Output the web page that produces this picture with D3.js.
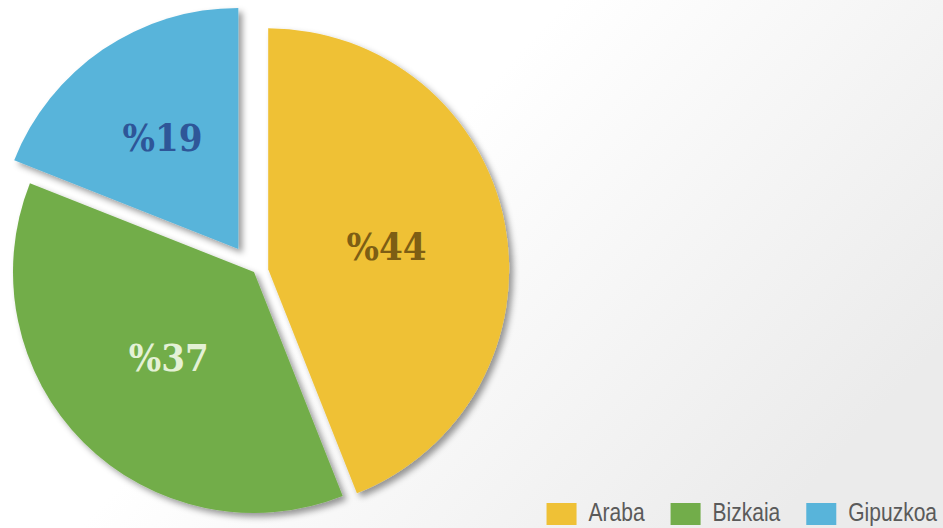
<!DOCTYPE html>
<html>
<head>
<meta charset="utf-8">
<script src="https://cdn.jsdelivr.net/npm/d3@7/dist/d3.min.js"></script>
<style>
  html, body { margin: 0; padding: 0; background: #fff; }
  svg { display: block; }
</style>
</head>
<body>
<div id="chart"></div>
<script>
  // data
  var provinces = ["Araba", "Bizkaia", "Gipuzkoa"];
  var shares = [44, 37, 19];

  // look of each slice (colour, label colour, how far it is pulled out, where the label sits)
  var sliceColor = { Araba: "#efc136", Bizkaia: "#72ad4a", Gipuzkoa: "#58b4da" };
  var labelColor = { Araba: "#7d5e14", Bizkaia: "#e4f1d6", Gipuzkoa: "#2e5698" };
  var explode = { Araba: 0.06, Bizkaia: 0, Gipuzkoa: 0.116 };
  var labelAt = { Araba: 0.5, Bizkaia: 0.5, Gipuzkoa: 0.56 };

  var width = 943;
  var height = 528;
  var radius = 241;
  var cx = 254, cy = 272;

  var svg = d3.select("#chart").append("svg")
    .attr("width", width)
    .attr("height", height);

  var defs = svg.append("defs");

  var bg = defs.append("linearGradient")
    .attr("id", "bg")
    .attr("x1", "0.42").attr("y1", "0.35")
    .attr("x2", "1").attr("y2", "0.65");
  bg.append("stop").attr("offset", "0").attr("stop-color", "#ffffff");
  bg.append("stop").attr("offset", "1").attr("stop-color", "#ebebeb");

  var shadow = defs.append("filter")
    .attr("id", "shadow")
    .attr("x", "-20%").attr("y", "-20%")
    .attr("width", "140%").attr("height", "140%");
  shadow.append("feDropShadow")
    .attr("dx", 4).attr("dy", 4)
    .attr("stdDeviation", 3)
    .attr("flood-color", "#000")
    .attr("flood-opacity", 0.4);

  svg.append("rect")
    .attr("width", width)
    .attr("height", height)
    .attr("fill", "url(#bg)");

  var table = provinces.map(function (p, i) { return { name: p, value: shares[i] }; });

  var pie = d3.pie()
    .sort(null)
    .value(function (d) { return d.value; });

  var arc = d3.arc()
    .innerRadius(0)
    .outerRadius(radius);

  var g = svg.append("g")
    .attr("transform", "translate(" + cx + "," + cy + ")");

  // offset of a slice along its middle angle
  function pull(d, k) {
    var a = (d.startAngle + d.endAngle) / 2;
    return [Math.sin(a) * k, -Math.cos(a) * k];
  }

  var slices = g.selectAll("g.slice")
    .data(pie(table))
    .enter().append("g")
    .attr("class", "slice")
    .attr("transform", function (d) {
      var o = pull(d, explode[d.data.name] * radius);
      return "translate(" + o[0] + "," + o[1] + ")";
    });

  slices.append("path")
    .attr("d", arc)
    .attr("fill", function (d) { return sliceColor[d.data.name]; })
    .attr("filter", "url(#shadow)");

  slices.append("text")
    .attr("x", function (d) { return pull(d, radius * labelAt[d.data.name])[0]; })
    .attr("y", function (d) { return pull(d, radius * labelAt[d.data.name])[1]; })
    .attr("dy", "0.35em")
    .attr("text-anchor", "middle")
    .style("font-family", "'DejaVu Serif Condensed', 'DejaVu Serif', serif")
    .style("font-weight", "bold")
    .style("font-size", "38px")
    .attr("fill", function (d) { return labelColor[d.data.name]; })
    .text(function (d) { return "%" + d.data.value; });

  // legend, laid out from the right edge
  var legend = svg.append("g").attr("class", "legend");
  var items = legend.selectAll("g")
    .data(provinces)
    .enter().append("g");

  items.append("rect")
    .attr("width", 30)
    .attr("height", 22)
    .attr("y", 503)
    .attr("fill", function (d) { return sliceColor[d]; });

  items.append("text")
    .attr("y", 521)
    .style("font-family", "'Liberation Sans', sans-serif")
    .style("font-size", "25px")
    .attr("fill", "#5a5a5a")
    .text(function (d) { return d; });

  var x = 937;
  var nodes = items.nodes().reverse();
  nodes.forEach(function (node) {
    var item = d3.select(node);
    var t = item.select("text");
    // the legend face is a narrow one: squeeze the text
    var w = t.node().getComputedTextLength() * 0.84;
    t.attr("textLength", w).attr("lengthAdjust", "spacingAndGlyphs");
    var textX = x - w;
    t.attr("x", textX);
    item.select("rect").attr("x", textX - 42);
    x = textX - 42 - 26;
  });
</script>
</body>
</html>
